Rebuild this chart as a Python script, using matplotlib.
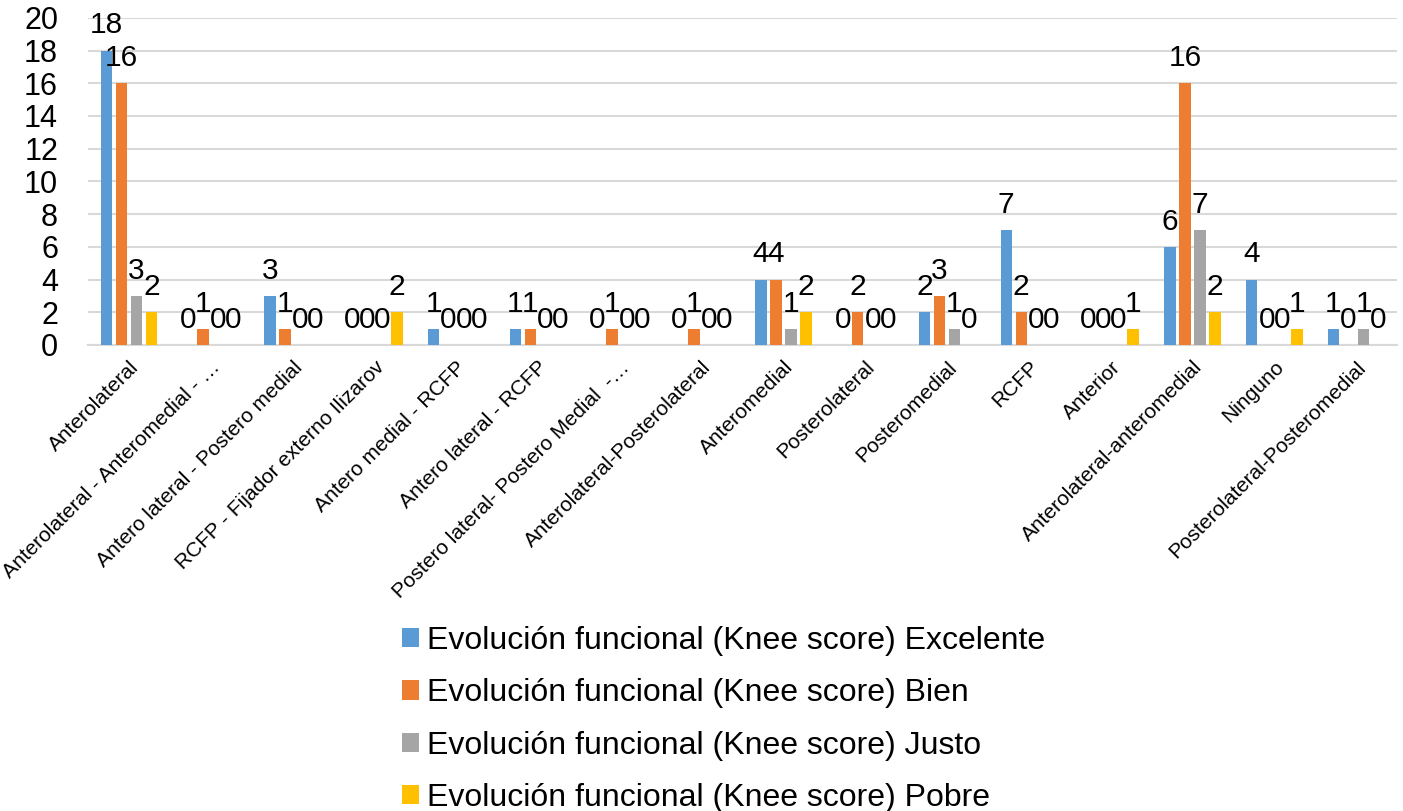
import matplotlib
matplotlib.use("Agg")
import matplotlib.pyplot as plt
import numpy as np

plt.rcParams['font.family'] = ['Liberation Sans', 'DejaVu Sans']

categories = [
    "Anterolateral",
    "Anterolateral - Anteromedial - …",
    "Antero lateral - Postero medial",
    "RCFP - Fijador externo Ilizarov",
    "Antero medial - RCFP",
    "Antero lateral - RCFP",
    "Postero lateral- Postero Medial  -…",
    "Anterolateral-Posterolateral",
    "Anteromedial",
    "Posterolateral",
    "Posteromedial",
    "RCFP",
    "Anterior",
    "Anterolateral-anteromedial",
    "Ninguno",
    "Posterolateral-Posteromedial",
]

excelente = [18, 0, 3, 0, 1, 1, 0, 0, 4, 0, 2, 7, 0, 6, 4, 1]
bien      = [16, 1, 1, 0, 0, 1, 1, 1, 4, 2, 3, 2, 0, 16, 0, 0]
justo     = [3, 0, 0, 0, 0, 0, 0, 0, 1, 0, 1, 0, 0, 7, 0, 1]
pobre     = [2, 0, 0, 2, 0, 0, 0, 0, 2, 0, 0, 0, 1, 2, 1, 0]

series_names = [
    "Evolución funcional (Knee score) Excelente",
    "Evolución funcional (Knee score) Bien",
    "Evolución funcional (Knee score) Justo",
    "Evolución funcional (Knee score) Pobre",
]
series_values = [excelente, bien, justo, pobre]
colors = ["#5B9BD5", "#ED7D31", "#A5A5A5", "#FFC000"]

fig = plt.figure(figsize=(14.03, 8.11), dpi=100)
ax = fig.add_axes([0.0627, 0.5746, 0.9330, 0.4034])

x = np.arange(len(categories))
step = 0.1836
width = 0.141
for i, (name, vals, col) in enumerate(zip(series_names, series_values, colors)):
    pos = x + (i - 1.5) * step
    ax.bar(pos, vals, width=width, color=col, label=name, zorder=3)
    for xp, v in zip(pos, vals):
        ax.annotate(str(v), (xp, v), xytext=(0, 8), textcoords="offset points",
                    ha="center", va="bottom", fontsize=21.5, color="black",
                    zorder=4)

ax.set_xlim(-0.5, len(categories) - 0.5)
ax.set_ylim(0, 20)
ax.set_yticks(np.arange(0, 21, 2))
ax.tick_params(axis='y', length=0, labelsize=22, pad=21.5)
ax.tick_params(axis='x', length=0, pad=9)
ax.set_xticks(x)
ax.set_xticklabels(categories, rotation=45, ha='right', va='top',
                   rotation_mode='anchor', fontsize=15)

ax.grid(axis='y', color='#D9D9D9', linewidth=1.5, zorder=0)
for s in ['top', 'right', 'left']:
    ax.spines[s].set_visible(False)
ax.spines['bottom'].set_color('#D9D9D9')
ax.spines['bottom'].set_linewidth(1.5)
ax.spines['bottom'].set_zorder(2)

fig.legend(loc='center left', bbox_to_anchor=(0.2863, 0.1128), frameon=False,
           fontsize=23, handlelength=0.55, handleheight=0.55, handletextpad=0.25,
           labelspacing=0.70, borderpad=0, borderaxespad=0)

fig.savefig("out.png", dpi=100)
